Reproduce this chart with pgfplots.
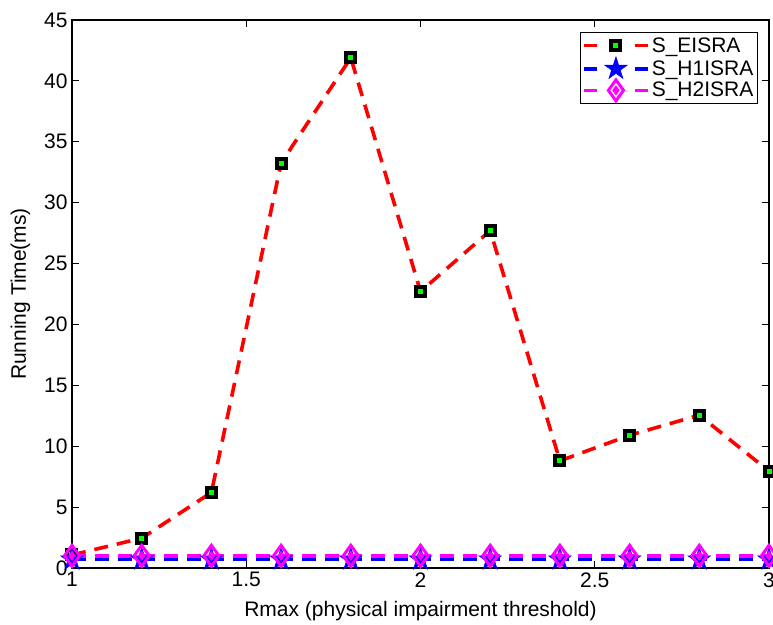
\documentclass[border=0pt]{standalone}
\usepackage{pgfplots}
\pgfplotsset{compat=1.18}
\usepackage{fontspec}
\setmainfont{Liberation Sans}
\definecolor{mgreen}{rgb}{0,1,0}
\definecolor{mmag}{rgb}{1,0,1}
\definecolor{mblue}{rgb}{0,0,1}
\definecolor{mred}{rgb}{1,0,0}
\pgfdeclareplotmark{pstar}{%
  \pgfpathmoveto{\pgfpointpolar{90}{\pgfplotmarksize}}%
  \pgfpathlineto{\pgfpointpolar{126}{0.382\pgfplotmarksize}}%
  \pgfpathlineto{\pgfpointpolar{162}{\pgfplotmarksize}}%
  \pgfpathlineto{\pgfpointpolar{198}{0.382\pgfplotmarksize}}%
  \pgfpathlineto{\pgfpointpolar{234}{\pgfplotmarksize}}%
  \pgfpathlineto{\pgfpointpolar{270}{0.382\pgfplotmarksize}}%
  \pgfpathlineto{\pgfpointpolar{306}{\pgfplotmarksize}}%
  \pgfpathlineto{\pgfpointpolar{342}{0.382\pgfplotmarksize}}%
  \pgfpathlineto{\pgfpointpolar{18}{\pgfplotmarksize}}%
  \pgfpathlineto{\pgfpointpolar{54}{0.382\pgfplotmarksize}}%
  \pgfpathclose
  \pgfusepathqfillstroke
}
\pgfdeclareplotmark{ddiamond}{%
  \pgfpathmoveto{\pgfqpoint{0pt}{\pgfplotmarksize}}%
  \pgfpathlineto{\pgfqpoint{0.72\pgfplotmarksize}{0pt}}%
  \pgfpathlineto{\pgfqpoint{0pt}{-\pgfplotmarksize}}%
  \pgfpathlineto{\pgfqpoint{-0.72\pgfplotmarksize}{0pt}}%
  \pgfpathclose
  \pgfusepathqstroke
  \pgfpathmoveto{\pgfqpoint{0pt}{0.25\pgfplotmarksize}}%
  \pgfpathlineto{\pgfqpoint{0.18\pgfplotmarksize}{0pt}}%
  \pgfpathlineto{\pgfqpoint{0pt}{-0.25\pgfplotmarksize}}%
  \pgfpathlineto{\pgfqpoint{-0.18\pgfplotmarksize}{0pt}}%
  \pgfpathclose
  \pgfusepathqfillstroke
}
\begin{document}
\begin{tikzpicture}
\begin{axis}[
  scale only axis,
  width=697pt, height=548pt,
  xmin=1, xmax=3, ymin=0, ymax=45,
  xtick={1,1.5,...,3}, ytick={0,5,...,45},
  xticklabels={1,1.5,2,2.5,3},
  tick align=inside,
  major tick length=7pt,
  tick style={black, line width=0.9pt},
  axis line style={line width=1.1pt},
  /pgf/number format/assume math mode=true,
  ticklabel style={font=\fontsize{21}{25}\selectfont},
  label style={font=\fontsize{21}{25}\selectfont},
  xticklabel style={yshift=-1pt},
  yticklabel style={xshift=-1pt},
  xlabel={Rmax (physical impairment threshold)},
  ylabel={Running Time(ms)},
  xlabel style={yshift=-7pt},
  ylabel style={yshift=7pt},
  legend style={at={(0.984,0.978)}, anchor=north east, draw=black, line width=1.1pt,
    font=\fontsize{21}{25}\selectfont, row sep=1pt, inner sep=2pt, inner ysep=3pt},
  legend cell align=left,
  legend image code/.code={
    \draw[#1, solid] (0pt,0pt) -- (13pt,0pt);
    \draw[#1, solid] (51pt,0pt) -- (64pt,0pt);
    \draw[#1, solid, only marks] plot coordinates {(32pt,0pt)};
  },
  every axis plot/.append style={line width=3.6pt, dash pattern=on 14pt off 9pt},
]
\addplot[mred, mark=square*, mark size=4.5pt,
  mark options={solid, fill=mgreen, draw=black, line width=4pt}]
  coordinates {(1,1.07) (1.2,2.45) (1.4,6.2) (1.6,33.25) (1.8,41.9) (2.0,22.7) (2.2,27.7) (2.4,8.8) (2.6,10.9) (2.8,12.55) (3.0,7.95)};
\addlegendentry{S\_EISRA}
\addplot[mblue, mark=pstar, mark size=12pt,
  mark options={solid, fill=mblue, draw=mblue, line width=0.5pt}]
  coordinates {(1,0.7) (1.2,0.7) (1.4,0.7) (1.6,0.7) (1.8,0.7) (2.0,0.7) (2.2,0.7) (2.4,0.7) (2.6,0.7) (2.8,0.7) (3.0,0.7)};
\addlegendentry{S\_H1ISRA}
\addplot[mmag, mark=ddiamond, mark size=10.5pt,
  mark options={solid, fill=mmag, draw=mmag, line width=3pt}]
  coordinates {(1,1.0) (1.2,1.0) (1.4,1.0) (1.6,1.0) (1.8,1.0) (2.0,1.0) (2.2,1.0) (2.4,1.0) (2.6,1.0) (2.8,1.0) (3.0,1.0)};
\addlegendentry{S\_H2ISRA}
\end{axis}
\pgfresetboundingbox
\path[use as bounding box] ([shift={(-72pt,-57pt)}]current axis.south west) rectangle ([shift={(4pt,20pt)}]current axis.north east);
\end{tikzpicture}
\end{document}
